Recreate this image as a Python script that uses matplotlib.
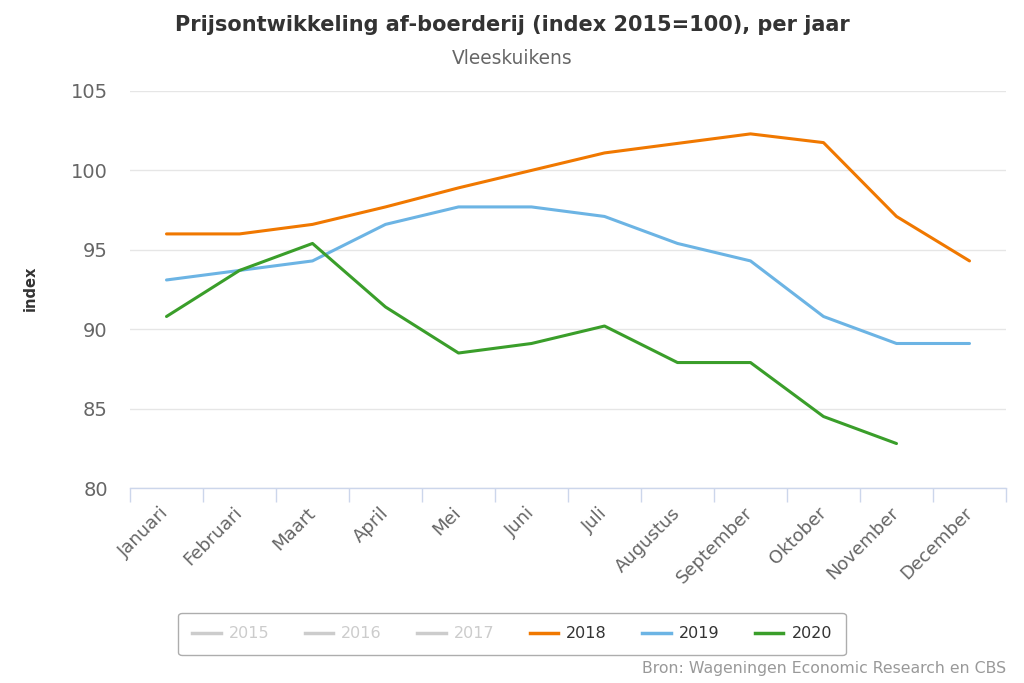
import matplotlib
matplotlib.use("Agg")
import matplotlib.pyplot as plt
from matplotlib.lines import Line2D
import numpy as np

plt.rcParams['font.family'] = ['DejaVu Sans']

maanden = ["Januari", "Februari", "Maart", "April", "Mei", "Juni", "Juli",
           "Augustus", "September", "Oktober", "November", "December"]

# index 2015=100
jaar_2018 = [96.0, 96.0, 96.6, 97.7, 98.9, 100.0, 101.1, 101.7, 102.3, 101.75, 97.1, 94.3]
jaar_2019 = [93.1, 93.7, 94.3, 96.6, 97.7, 97.7, 97.1, 95.4, 94.3, 90.8, 89.1, 89.1]
jaar_2020 = [90.8, 93.7, 95.4, 91.4, 88.5, 89.1, 90.2, 87.9, 87.9, 84.5, 82.8]

verborgen = ["2015", "2016", "2017"]
series = [("2018", jaar_2018, "#f07800"),
          ("2019", jaar_2019, "#6cb4e4"),
          ("2020", jaar_2020, "#3a9e2a")]

fig = plt.figure(figsize=(10.24, 6.83), dpi=100)
ax = fig.add_axes([130/1024, 1-488/683, 876/1024, 397/683])

for naam, waarden, kleur in series:
    ax.plot(np.arange(len(waarden)), waarden, color=kleur, lw=2.2,
            solid_joinstyle='round', solid_capstyle='round', zorder=3)

ax.set_xlim(-0.5, 11.5)
ax.set_ylim(80, 105)
ax.set_yticks([80, 85, 90, 95, 100, 105])
ax.grid(axis='y', color='#e6e6e6', lw=1)
ax.set_axisbelow(True)

for s in ['top', 'right', 'left']:
    ax.spines[s].set_visible(False)
ax.spines['bottom'].set_color('#ccd6eb')
ax.spines['bottom'].set_linewidth(1)

# ticks on category boundaries, labels in the middle
ax.set_xticks(np.arange(-0.5, 12, 1))
ax.set_xticklabels([])
ax.tick_params(axis='x', which='major', length=10, color='#ccd6eb', width=1)
ax.set_xticks(np.arange(12), minor=True)
ax.set_xticklabels(maanden, minor=True, rotation=45, ha='right', va='center',
                   rotation_mode='anchor', fontsize=13, color='#666666')
ax.tick_params(axis='x', which='minor', length=0, pad=16)

ax.tick_params(axis='y', length=0, labelsize=14, labelcolor='#666666', pad=16)

fig.text(30/1024, 1-288/683, "index", rotation=90, ha='center', va='center',
         fontsize=10.5, fontweight='bold', color='#333333')

fig.text(0.5, 1-25/683, "Prijsontwikkeling af-boerderij (index 2015=100), per jaar",
         ha='center', va='center', fontsize=15, fontweight='bold', color='#333333')
fig.text(0.5, 1-58/683, "Vleeskuikens", ha='center', va='center',
         fontsize=13.4, color='#666666')

fig.text(1006/1024, 1-668/683, "Bron: Wageningen Economic Research en CBS",
         ha='right', va='center', fontsize=11.3, color='#999999')

handles = [Line2D([], [], color='#cccccc', lw=2.5) for _ in verborgen]
handles += [Line2D([], [], color=k, lw=2.5) for _, _, k in series]
labels = verborgen + [n for n, _, _ in series]
leg = fig.legend(handles, labels, loc='center', bbox_to_anchor=(0.5, 1-634/683),
                 ncol=6, fontsize=11.5, frameon=True, handlelength=1.8,
                 handletextpad=0.5, columnspacing=2.2, borderpad=0.85,
                 fancybox=True, edgecolor='#999999')
leg.get_frame().set_linewidth(1)
for i, t in enumerate(leg.get_texts()):
    t.set_color('#cccccc' if i < len(verborgen) else '#333333')

fig.savefig("out.png", dpi=100)
